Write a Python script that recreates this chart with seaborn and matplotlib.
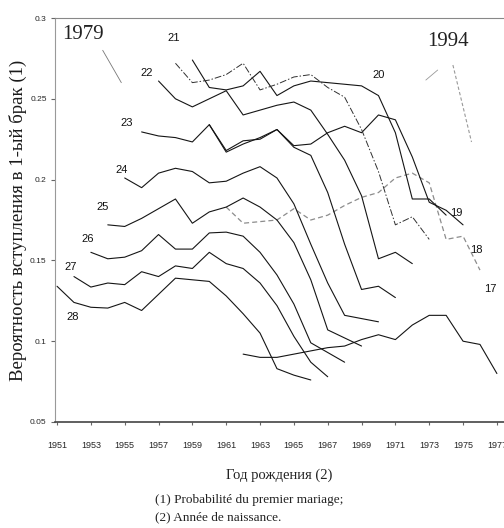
"""
first-marriage probability by age, birth cohorts 1951-1977
"""
import numpy as np
import pandas as pd
import seaborn as sns
import matplotlib.pyplot as plt

sns.set_style("ticks")
plt.rcParams["font.family"] = ["Liberation Serif", "DejaVu Serif"]

# observation window 1979-1994: an age-a curve covers birth years 1979-a .. 1994-a
PERIOD_START = 1979
PERIOD_END = 1994
AGES = [17, 18, 19, 20, 21, 22, 23, 24, 25, 26, 27, 28]

p17 = [0.092, 0.090, 0.090, 0.092, 0.094, 0.096, 0.097, 0.101,
       0.104, 0.101, 0.110, 0.116, 0.116, 0.100, 0.098, 0.080]
p18 = [0.183, 0.173, 0.174, 0.175, 0.182, 0.175, 0.178, 0.184,
       0.189, 0.192, 0.201, 0.204, 0.198, 0.163, 0.165, 0.144]
p19 = [0.234, 0.217, 0.222, 0.226, 0.231, 0.221, 0.222, 0.229,
       0.233, 0.229, 0.240, 0.237, 0.214, 0.186, 0.181, 0.172]
p20 = [0.274, 0.257, 0.2555, 0.258, 0.267, 0.252, 0.258, 0.261,
       0.260, 0.259, 0.258, 0.252, 0.229, 0.188, 0.188, 0.178]
p21 = [0.272, 0.260, 0.2616, 0.265, 0.272, 0.2555, 0.259, 0.2635,
       0.265, 0.257, 0.251, 0.231, 0.205, 0.172, 0.177, 0.163]
p22 = [0.261, 0.250, 0.245, 0.250, 0.255, 0.240, 0.243, 0.246,
       0.248, 0.243, 0.228, 0.212, 0.190, 0.151, 0.155, 0.148]
p23 = [0.2295, 0.227, 0.226, 0.2233, 0.234, 0.218, 0.224, 0.225,
       0.231, 0.220, 0.215, 0.192, 0.160, 0.132, 0.134, 0.127]
p24 = [0.201, 0.195, 0.204, 0.207, 0.205, 0.198, 0.199, 0.204,
       0.208, 0.201, 0.185, 0.160, 0.136, 0.116, 0.114, 0.112]
p25 = [0.172, 0.171, 0.176, 0.182, 0.188, 0.173, 0.180, 0.183,
       0.1886, 0.183, 0.175, 0.161, 0.138, 0.107, 0.102, 0.097]
p26 = [0.155, 0.151, 0.152, 0.156, 0.166, 0.157, 0.157, 0.167,
       0.1675, 0.165, 0.155, 0.141, 0.123, 0.099, 0.093, 0.087]
p27 = [0.140, 0.1335, 0.136, 0.135, 0.143, 0.140, 0.1466, 0.145,
       0.155, 0.148, 0.145, 0.136, 0.122, 0.103, 0.087, 0.078]
p28 = [0.134, 0.124, 0.121, 0.1205, 0.124, 0.119, 0.129, 0.139,
       0.138, 0.137, 0.128, 0.117, 0.105, 0.083, 0.079, 0.076]

PROBS = dict(zip(AGES, [p17, p18, p19, p20, p21, p22,
                        p23, p24, p25, p26, p27, p28]))

X_TICKS = list(range(1951, 1978, 2))
Y_TICKS = [0.05, 0.1, 0.15, 0.2, 0.25, 0.3]
Y_TICKLABELS = ["0.05", "0.1", "0.15", "0.2", "0.25", "0.3"]

rows = []
for age in AGES:
    years = np.arange(PERIOD_START - age, PERIOD_END - age + 1)
    for yr, p in zip(years, PROBS[age]):
        rows.append({"age": age, "birth_year": yr, "prob": p})
df = pd.DataFrame(rows)

LINE_ARGS = {"color": "#151515", "linewidth": 0.8, "linestyle": "-"}
SPECIAL_LINES = {
    18: {"color": "#8c8c8c", "linewidth": 0.9, "linestyle": (0, (4, 2.5))},
    21: {"color": "#303030", "linewidth": 0.7, "linestyle": (0, (7, 2, 1.5, 2))},
}

# where the age numbers sit (birth year, probability)
LABEL_POS = {
    17: (1976.6, 0.1322), 18: (1975.8, 0.1564), 19: (1974.6, 0.1793),
    20: (1970.0, 0.2647), 21: (1957.9, 0.2875), 22: (1956.3, 0.2660),
    23: (1955.1, 0.2350), 24: (1954.8, 0.2059), 25: (1953.7, 0.1831),
    26: (1952.8, 0.1632), 27: (1951.8, 0.1460), 28: (1951.9, 0.1151),
}

fig = plt.figure(figsize=(5.04, 5.28), dpi=100)
ax = fig.add_axes([55 / 504, 106 / 528, 449 / 504, 404 / 528])

for age in AGES:
    args = SPECIAL_LINES.get(age, LINE_ARGS)
    sns.lineplot(data=df[df["age"] == age], x="birth_year", y="prob",
                 estimator=None, sort=True, ax=ax, **args)

narrow = ["Liberation Sans Narrow", "Liberation Sans", "DejaVu Sans"]
for age, (xx, yy) in LABEL_POS.items():
    ax.text(xx, yy, str(age), fontsize=8, family=narrow,
            ha="center", va="center", color="#111111")

# period markers with their leader lines
ax.text(1951.3, 0.2895, "1979", fontsize=15, va="center", ha="left",
        color="#222222")
ax.plot([1953.7, 1954.8], [0.280, 0.260], color="#777777", lw=0.6)
ax.text(1972.9, 0.2855, "1994", fontsize=15, va="center", ha="left",
        color="#222222")
ax.plot([1972.8, 1973.5], [0.2616, 0.2678], color="#999999", lw=0.6)
ax.plot([1974.4, 1975.5], [0.2709, 0.2233], color="#999999", lw=0.8,
        ls=(0, (3, 2)))

ax.set_xlim(1950.88, 1977.42)
ax.set_ylim(0.05, 0.3)
ax.set_xticks(X_TICKS)
ax.set_xticklabels([str(t) for t in X_TICKS], family=narrow, fontsize=6.5)
ax.set_yticks(Y_TICKS)
ax.set_yticklabels(Y_TICKLABELS, family=narrow, fontsize=6)
ax.tick_params(axis="x", length=2, pad=12, color="#666666")
ax.tick_params(axis="y", length=3, pad=3, color="#666666")

ax.spines["right"].set_visible(False)
ax.spines["top"].set_color("#888888")
ax.spines["top"].set_linewidth(0.8)
ax.spines["left"].set_color("#999999")
ax.spines["left"].set_linewidth(0.8)
ax.spines["bottom"].set_color("#444444")
ax.spines["bottom"].set_linewidth(1.2)

ax.set_xlabel("Год рождения (2)", fontsize=10.5, labelpad=13, color="#222222")
ax.set_ylabel("Вероятность вступления в 1-ый брак (1)", fontsize=13.5,
              labelpad=2, color="#1a1a1a")

fig.text(155 / 504, 1 - 500 / 528, "(1) Probabilité du premier mariage;",
         fontsize=9.5, va="center", ha="left", color="#222222")
fig.text(155 / 504, 1 - 517 / 528, "(2) Année de naissance.",
         fontsize=9.5, va="center", ha="left", color="#222222")

plt.savefig("out.png", dpi=100)
plt.close()
